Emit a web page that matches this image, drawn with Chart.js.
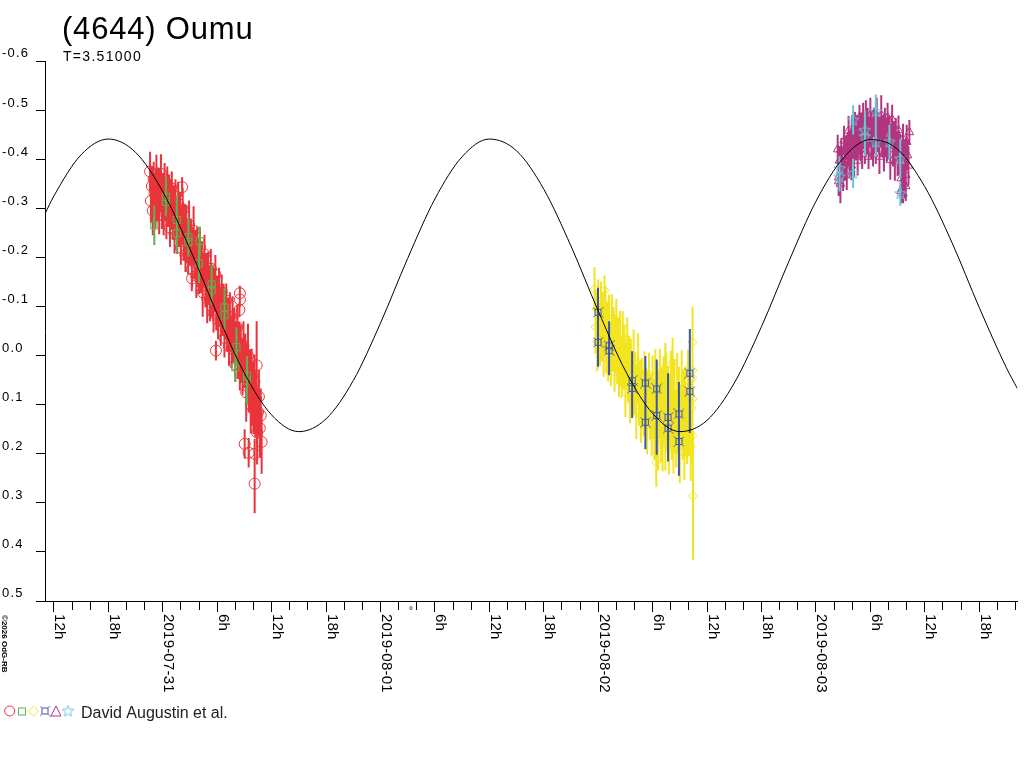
<!DOCTYPE html>
<html>
<head>
<meta charset="utf-8">
<title>(4644) Oumu</title>
<script src="https://cdn.jsdelivr.net/npm/chart.js@4.4.1/dist/chart.umd.min.js"></script>
<style>
    html, body { margin: 0; padding: 0; background: #fff; }
    #wrap { width: 1024px; height: 768px; }
</style>
</head>
<body>
<div id="wrap"><canvas id="lightCurve" width="1024" height="768"></canvas></div>
<script>
/* 데이터 시작 (x = 2019-07-31 00:00 기준 시간, y = 등급) */
/* --------------------------------------------------------------------------------------------------- */
const titleText = '(4644) Oumu';
const subtitleText = 'T=3.51000';
const legendText = 'David Augustin et al.';

// 곡선 (그림에서 3시간 간격으로 읽은 값)
const curveHours = [-13, -12, -9, -6, -3, 0, 3, 6, 9, 12, 15, 18, 21, 24, 27, 30, 33, 36, 39, 42, 45, 48, 51, 54, 57, 60, 63, 66, 69, 72, 75, 78, 81, 84, 87, 90, 93, 94.2];
const curveMag = [-0.288, -0.325, -0.409, -0.441, -0.414, -0.334, -0.217, -0.085, 0.036, 0.121, 0.155, 0.129, 0.051, -0.066, -0.198, -0.319, -0.405, -0.441, -0.417, -0.339, -0.223, -0.091, 0.031, 0.118, 0.155, 0.132, 0.056, -0.059, -0.191, -0.314, -0.402, -0.440, -0.420, -0.344, -0.230, -0.098, 0.025, 0.067];

// [시간, 등급, 오차]
const redObs = [
    [-1.4,-0.375,0.04],[-1.3,-0.315,0.045],[-1.2,-0.345,0.04],[-1.1,-0.295,0.05],[-1.0,-0.36,0.035],
    [-0.9,-0.33,0.04],[-0.8,-0.304,0.045],[-0.7,-0.369,0.04],[-0.6,-0.323,0.05],[-0.5,-0.348,0.035],
    [-0.4,-0.287,0.04],[-0.3,-0.336,0.045],[-0.2,-0.37,0.04],[-0.1,-0.308,0.05],[0.0,-0.337,0.035],
    [0.1,-0.285,0.04],[0.2,-0.347,0.045],[0.3,-0.315,0.04],[0.4,-0.287,0.05],[0.5,-0.35,0.035],
    [0.6,-0.302,0.04],[0.7,-0.324,0.045],[0.8,-0.261,0.04],[0.9,-0.308,0.05],[1.0,-0.34,0.035],
    [1.1,-0.276,0.04],[1.2,-0.302,0.045],[1.3,-0.248,0.04],[1.4,-0.309,0.05],[1.5,-0.275,0.035],
    [1.6,-0.247,0.04],[1.7,-0.309,0.045],[1.8,-0.261,0.04],[1.9,-0.283,0.05],[2.0,-0.22,0.035],
    [2.1,-0.266,0.04],[2.2,-0.297,0.045],[2.3,-0.233,0.04],[2.4,-0.259,0.05],[2.5,-0.205,0.035],
    [2.6,-0.267,0.04],[2.7,-0.233,0.045],[2.8,-0.205,0.04],[2.9,-0.266,0.05],[3.0,-0.218,0.035],
    [3.1,-0.239,0.04],[3.2,-0.176,0.045],[3.3,-0.222,0.04],[3.4,-0.254,0.05],[3.5,-0.19,0.035],
    [3.6,-0.216,0.04],[3.7,-0.162,0.045],[3.8,-0.223,0.04],[3.9,-0.189,0.05],[4.0,-0.16,0.035],
    [4.1,-0.221,0.04],[4.2,-0.172,0.045],[4.3,-0.193,0.04],[4.4,-0.129,0.05],[4.5,-0.175,0.035],
    [4.6,-0.206,0.04],[4.7,-0.143,0.045],[4.8,-0.169,0.04],[4.9,-0.116,0.05],[5.0,-0.177,0.035],
    [5.1,-0.144,0.04],[5.2,-0.115,0.045],[5.3,-0.177,0.04],[5.4,-0.128,0.05],[5.5,-0.15,0.035],
    [5.6,-0.087,0.04],[5.7,-0.133,0.045],[5.8,-0.165,0.04],[5.9,-0.101,0.05],[6.0,-0.128,0.035],
    [6.1,-0.073,0.04],[6.2,-0.134,0.045],[6.3,-0.099,0.04],[6.4,-0.07,0.05],[6.5,-0.13,0.035],
    [6.6,-0.08,0.04],[6.7,-0.101,0.045],[6.8,-0.036,0.04],[6.9,-0.082,0.05],[7.0,-0.112,0.035],
    [7.1,-0.048,0.04],[7.2,-0.073,0.045],[7.3,-0.019,0.04],[7.4,-0.079,0.05],[7.5,-0.045,0.035],
    [7.6,-0.015,0.04],[7.7,-0.076,0.045],[7.8,-0.026,0.04],[7.9,-0.047,0.05],[8.0,0.018,0.035],
    [8.1,-0.027,0.04],[8.2,-0.058,0.045],[8.3,0.007,0.04],[8.4,-0.019,0.05],[8.5,0.036,0.035],
    [8.6,-0.024,0.04],[8.7,0.011,0.045],[8.8,0.04,0.04],[8.9,-0.02,0.05],[9.0,0.03,0.035],
    [9.1,0.01,0.055],[9.2,0.075,0.06],[9.3,0.03,0.055],[9.4,0.0,0.065],[9.5,0.065,0.05],
    [9.6,0.042,0.055],[9.7,0.099,0.06],[9.8,0.041,0.055],[9.9,0.078,0.065],[10.0,0.11,0.05],
    [10.1,0.053,0.055],[10.2,0.106,0.06],[10.3,0.089,0.055],[10.4,0.157,0.065],[10.5,0.115,0.05],
    [10.6,0.084,0.055],[10.7,0.148,0.06],[10.8,0.122,0.055],[10.9,0.176,0.065],
    [2.13,-0.343,0.02],[3.23,-0.157,0.02],[5.86,-0.010,0.02],[8.45,-0.093,0.015],[8.5,-0.114,0.015],
    [8.5,-0.127,0.015],[9.03,0.180,0.03],[9.47,0.198,0.03],[10.13,0.20,0.03],[10.13,0.261,0.06],
    [10.35,0.02,0.09]
];
const greenObs = [
    [-0.93,-0.265,0.04],[0.35,-0.323,0.04],[0.35,-0.313,0.03],[1.55,-0.276,0.05],[1.55,-0.249,0.04],
    [2.83,-0.241,0.04],[2.83,-0.231,0.03],[4.07,-0.233,0.03],[4.0,-0.188,0.04],[5.39,-0.145,0.04],
    [5.39,-0.133,0.03],[6.81,-0.098,0.04],[6.81,-0.082,0.03],[8.12,-0.017,0.04],[8.0,0.024,0.03],
    [9.29,0.051,0.05],[9.29,0.041,0.04]
];
const yellowObs = [
    [47.6,-0.135,0.045],[47.7,-0.058,0.055],[47.8,-0.095,0.04],[47.9,-0.028,0.06],[48.0,-0.105,0.05],
    [48.1,-0.062,0.045],[48.2,-0.034,0.055],[48.3,-0.111,0.04],[48.4,-0.048,0.06],[48.5,-0.08,0.05],
    [48.6,-0.002,0.045],[48.7,-0.059,0.055],[48.8,-0.101,0.04],[48.9,-0.023,0.06],[49.0,-0.06,0.05],
    [49.1,0.008,0.045],[49.2,-0.069,0.055],[49.3,-0.026,0.04],[49.4,0.002,0.06],[49.5,-0.075,0.05],
    [49.6,-0.012,0.045],[49.7,-0.044,0.055],[49.8,0.034,0.04],[49.9,-0.023,0.06],[50.0,-0.065,0.05],
    [50.1,0.013,0.045],[50.2,-0.023,0.055],[50.3,0.045,0.04],[50.4,-0.031,0.06],[50.5,0.013,0.05],
    [50.6,0.041,0.045],[50.7,-0.035,0.055],[50.8,0.028,0.04],[50.9,-0.003,0.06],[51.0,0.075,0.05],
    [51.1,0.019,0.045],[51.2,-0.023,0.055],[51.3,0.056,0.04],[51.4,0.019,0.06],[51.5,0.088,0.05],
    [51.6,0.011,0.045],[51.7,0.055,0.055],[51.8,0.083,0.04],[51.9,0.007,0.06],[52.0,0.07,0.05],
    [52.1,0.038,0.045],[52.2,0.115,0.055],[52.3,0.058,0.04],[52.4,0.015,0.06],[52.5,0.093,0.05],
    [52.6,0.055,0.045],[52.7,0.123,0.055],[52.8,0.045,0.04],[52.9,0.088,0.06],[53.0,0.115,0.05],
    [53.1,0.037,0.045],[53.2,0.098,0.055],[53.3,0.065,0.04],[53.4,0.141,0.06],[53.5,0.083,0.05],
    [53.6,0.039,0.045],[53.7,0.116,0.055],[53.8,0.077,0.04],[53.9,0.144,0.06],[54.0,0.065,0.065],
    [54.1,0.11,0.06],[54.2,0.143,0.07],[54.3,0.042,0.055],[54.4,0.121,0.075],[54.5,0.077,0.065],
    [54.6,0.174,0.06],[54.7,0.1,0.07],[54.8,0.042,0.055],[54.9,0.142,0.075],[55.0,0.09,0.065],
    [55.1,0.176,0.06],[55.2,0.072,0.07],[55.3,0.126,0.055],[55.4,0.159,0.075],[55.5,0.057,0.065],
    [55.6,0.136,0.06],[55.7,0.091,0.07],[55.8,0.188,0.055],[55.9,0.113,0.075],[56.0,0.055,0.065],
    [56.1,0.153,0.06],[56.2,0.101,0.07],[56.3,0.186,0.055],[56.4,0.082,0.075],[56.5,0.135,0.065],
    [56.6,0.168,0.06],[56.7,0.065,0.07],[56.8,0.144,0.055],[56.9,0.098,0.075],[57.0,0.195,0.065],
    [57.1,0.119,0.06],[57.2,0.059,0.07],[57.3,0.157,0.055],[57.4,0.103,0.075],[57.5,0.188,0.065],
    [57.6,0.082,0.06],[57.7,0.135,0.07],[57.8,0.166,0.055],[57.9,0.063,0.075],[58.0,0.14,0.065],
    [58.1,0.092,0.06],[58.2,0.185,0.07],[58.3,0.107,0.055],[58.4,0.045,0.075],
    [48.7,-0.133,0.03],[54.4,0.218,0.05],[55.4,0.024,0.05],[56.2,0.014,0.05],[58.4,-0.027,0.04],
    [58.4,0.088,0.05],[58.4,0.163,0.06],[58.45,0.286,0.13],[58.4,0.03,0.13]
];
const blueObs = [
    [47.98,-0.088,0.05],[47.98,-0.027,0.05],[49.2,-0.020,0.05],[49.2,-0.010,0.05],
    [51.74,0.051,0.06],[51.74,0.067,0.06],[53.2,0.056,0.055],[53.2,0.136,0.055],
    [54.45,0.068,0.06],[54.45,0.122,0.08],[55.7,0.126,0.09],[55.7,0.148,0.06],
    [56.9,0.119,0.065],[56.9,0.175,0.07],[58.1,0.036,0.09],[58.1,0.073,0.085]
];
const magentaObs = [
    [74.4,-0.42,0.03],[74.5,-0.363,0.035],[74.6,-0.397,0.03],[74.7,-0.35,0.04],[74.8,-0.418,0.025],
    [74.9,-0.392,0.03],[75.0,-0.37,0.035],[75.1,-0.438,0.03],[75.2,-0.396,0.04],[75.3,-0.424,0.025],
    [75.4,-0.367,0.03],[75.5,-0.42,0.035],[75.6,-0.458,0.03],[75.7,-0.401,0.04],[75.8,-0.434,0.025],
    [75.9,-0.387,0.03],[76.0,-0.455,0.035],[76.1,-0.427,0.03],[76.2,-0.404,0.04],[76.3,-0.471,0.025],
    [76.4,-0.428,0.03],[76.5,-0.455,0.035],[76.6,-0.397,0.03],[76.7,-0.449,0.04],[76.8,-0.486,0.025],
    [76.9,-0.428,0.03],[77.0,-0.46,0.035],[77.1,-0.41,0.03],[77.2,-0.475,0.04],[77.3,-0.445,0.025],
    [77.4,-0.42,0.03],[77.5,-0.485,0.035],[77.6,-0.44,0.03],[77.7,-0.465,0.04],[77.8,-0.405,0.025],
    [77.9,-0.455,0.03],[78.0,-0.49,0.035],[78.1,-0.43,0.03],[78.2,-0.46,0.04],[78.3,-0.41,0.025],
    [78.4,-0.475,0.03],[78.5,-0.445,0.035],[78.6,-0.42,0.03],[78.7,-0.485,0.04],[78.8,-0.44,0.025],
    [78.9,-0.465,0.03],[79.0,-0.405,0.035],[79.1,-0.455,0.03],[79.2,-0.49,0.04],[79.3,-0.43,0.025],
    [79.4,-0.46,0.03],[79.5,-0.41,0.035],[79.6,-0.475,0.03],[79.7,-0.445,0.04],[79.8,-0.42,0.025],
    [79.9,-0.485,0.03],[80.0,-0.435,0.035],[80.1,-0.459,0.03],[80.2,-0.398,0.04],[80.3,-0.447,0.025],
    [80.4,-0.481,0.03],[80.5,-0.42,0.035],[80.6,-0.448,0.03],[80.7,-0.396,0.04],[80.8,-0.459,0.025],
    [80.9,-0.427,0.03],[81.0,-0.40,0.035],[81.1,-0.459,0.03],[81.2,-0.408,0.04],[81.3,-0.427,0.025],
    [81.4,-0.361,0.03],[81.5,-0.405,0.035],[81.6,-0.442,0.03],[81.7,-0.384,0.04],[81.8,-0.416,0.025],
    [81.9,-0.368,0.03],[82.0,-0.435,0.035],[82.1,-0.408,0.03],[82.2,-0.387,0.04],[82.3,-0.455,0.025],
    [74.5,-0.355,0.03],[81.4,-0.335,0.025],[81.5,-0.34,0.03],[81.6,-0.33,0.02],[81.7,-0.35,0.03],
    [81.9,-0.345,0.03]
];
const cyanObs = [
    [74.6,-0.381,0.025],[74.6,-0.364,0.03],[76.1,-0.371,0.03],[76.1,-0.480,0.03],
    [77.4,-0.459,0.04],[77.4,-0.446,0.04],[78.6,-0.497,0.035],[78.6,-0.435,0.03],
    [80.1,-0.435,0.035],[81.3,-0.401,0.04],[81.3,-0.330,0.025]
];

// 축 눈금
const xMajorHours = [-12, -6, 0, 6, 12, 18, 24, 30, 36, 42, 48, 54, 60, 66, 72, 78, 84, 90];
const xMajorLabels = ['12h', '18h', '2019-07-31', '6h', '12h', '18h', '2019-08-01', '6h', '12h', '18h', '2019-08-02', '6h', '12h', '18h', '2019-08-03', '6h', '12h', '18h'];
const yTickValues = [-0.6, -0.5, -0.4, -0.3, -0.2, -0.1, 0.0, 0.1, 0.2, 0.3, 0.4, 0.5];
const yTickLabels = ['-0.6', '-0.5', '-0.4', '-0.3', '-0.2', '-0.1', '0.0', '0.1', '0.2', '0.3', '0.4', '0.5'];
/* --------------------------------------------------------------------------------------------------- */

const RED = '#e8343a';
const GREEN = '#5cb450';
const YELLOW = '#f2e41e';
const BLUE = '#3a55b0';
const MAGENTA = '#b2357f';
const CYAN = '#66c8d8';

Chart.defaults.font.family = '"Liberation Sans", Arial, sans-serif';

// 파란 기호, 별 기호 (pointStyle 이미지)
function makeBlueMark() {
    const c = document.createElement('canvas');
    c.width = 11; c.height = 11;
    const g = c.getContext('2d');
    g.strokeStyle = BLUE; g.lineWidth = 1;
    g.strokeRect(2.5, 2.5, 6, 6);
    g.beginPath();
    g.moveTo(0.5, 0.5); g.lineTo(2.5, 2.5);
    g.moveTo(10.5, 0.5); g.lineTo(8.5, 2.5);
    g.moveTo(0.5, 10.5); g.lineTo(2.5, 8.5);
    g.moveTo(10.5, 10.5); g.lineTo(8.5, 8.5);
    g.stroke();
    return c;
}
function makeStarMark() {
    const c = document.createElement('canvas');
    c.width = 13; c.height = 13;
    const g = c.getContext('2d');
    g.strokeStyle = CYAN; g.lineWidth = 1;
    g.beginPath();
    for (let i = 0; i < 10; i++) {
        const r = i % 2 === 0 ? 6 : 2.6;
        const a = -Math.PI / 2 + i * Math.PI / 5;
        const px = 6.5 + r * Math.cos(a), py = 6.8 + r * Math.sin(a);
        if (i === 0) g.moveTo(px, py); else g.lineTo(px, py);
    }
    g.closePath();
    g.stroke();
    return c;
}
const blueMark = makeBlueMark();
const starMark = makeStarMark();

// 오차 막대: 선 데이터셋 (null 로 끊음)
function errLine(obs, color, width, order) {
    const pts = [];
    obs.forEach(o => {
        pts.push({ x: o[0], y: o[1] - o[2] });
        pts.push({ x: o[0], y: o[1] + o[2] });
        pts.push({ x: o[0], y: null });
    });
    return { type: 'line', data: pts, borderColor: color, borderWidth: width, pointRadius: 0, spanGaps: false, tension: 0, fill: false, order: order };
}
function marks(obs, color, style, radius, order) {
    return {
        type: 'scatter',
        data: obs.map(o => ({ x: o[0], y: o[1] })),
        pointStyle: style, pointRadius: radius,
        borderColor: color, backgroundColor: 'rgba(0,0,0,0)', borderWidth: 1,
        order: order
    };
}

// 제목, 세로 날짜 라벨, 범례
const decorPlugin = {
    id: 'decor',
    beforeDraw(chart) {
        chart.ctx.letterSpacing = '1.2px'; // y축 라벨 간격
    },
    afterDraw(chart) {
        const ctx = chart.ctx;
        const xs = chart.scales.x;
        ctx.save();
        ctx.fillStyle = '#000';
        ctx.textAlign = 'left';
        ctx.textBaseline = 'alphabetic';

        ctx.letterSpacing = '0.8px';
        ctx.font = '31px "Liberation Sans"';
        ctx.fillText(titleText, 62, 39);
        ctx.letterSpacing = '1.3px';
        ctx.font = '14px "Liberation Sans"';
        ctx.fillText(subtitleText, 63, 61);

        ctx.letterSpacing = '0.2px';
        ctx.font = '15px "Liberation Sans"';
        xMajorHours.forEach((h, i) => {
            const px = xs.getPixelForValue(h);
            ctx.save();
            ctx.translate(px + 1.5, xs.top + 13);
            ctx.rotate(Math.PI / 2);
            ctx.fillText(xMajorLabels[i], 0, 0);
            ctx.restore();
        });

        ctx.letterSpacing = '0px';
        ctx.font = 'bold 8px "Liberation Sans"';
        ctx.save();
        ctx.translate(1.5, 615);
        ctx.rotate(Math.PI / 2);
        ctx.fillText('\u00a92026 OdG-RB', 0, 0);
        ctx.restore();

        ctx.font = '10px "Liberation Sans"';
        ctx.fillText('\u00b0', 409, 614);

        // 범례 기호
        ctx.lineWidth = 1;
        ctx.strokeStyle = RED;
        ctx.beginPath(); ctx.arc(9.7, 711, 5, 0, Math.PI * 2); ctx.stroke();
        ctx.strokeStyle = GREEN;
        ctx.strokeRect(18.5, 708, 7, 7);
        ctx.strokeStyle = YELLOW;
        ctx.beginPath(); ctx.moveTo(28.5, 711); ctx.lineTo(33.5, 706); ctx.lineTo(38.5, 711); ctx.lineTo(33.5, 716); ctx.closePath(); ctx.stroke();
        ctx.drawImage(blueMark, 39.5, 705.5);
        ctx.strokeStyle = MAGENTA;
        ctx.beginPath(); ctx.moveTo(56, 706); ctx.lineTo(61, 716); ctx.lineTo(51, 716); ctx.closePath(); ctx.stroke();
        ctx.drawImage(starMark, 61.5, 704.5);

        ctx.font = '16px "Liberation Sans"';
        ctx.fillStyle = '#222';
        ctx.fillText(legendText, 81, 718);
        ctx.restore();
        ctx.letterSpacing = '0px';
    }
};

const minorHours = [];
for (let h = -12; h <= 94; h += 2) minorHours.push(h);

new Chart(document.getElementById('lightCurve').getContext('2d'), {
    type: 'scatter',
    data: {
        datasets: [
            { type: 'line', data: curveHours.map((h, i) => ({ x: h, y: curveMag[i] })), borderColor: '#000', borderWidth: 1, pointRadius: 0, cubicInterpolationMode: 'monotone', fill: false, order: 0 },
            errLine(blueObs, BLUE, 2, 2), marks(blueObs, BLUE, blueMark, 5, 1),
            errLine(cyanObs, CYAN, 2, 2), marks(cyanObs, CYAN, starMark, 5, 1),
            errLine(greenObs, GREEN, 2, 2), marks(greenObs, GREEN, 'rect', 5, 1),
            errLine(redObs, RED, 2, 4), marks(redObs, RED, 'circle', 5.5, 3),
            errLine(yellowObs, YELLOW, 2, 4), marks(yellowObs, YELLOW, 'rectRot', 4.5, 3),
            errLine(magentaObs, MAGENTA, 2, 4), marks(magentaObs, MAGENTA, 'triangle', 5, 3)
        ]
    },
    options: {
        responsive: false,
        animation: false,
        events: [],
        layout: { padding: { left: 2, top: 61, right: 0, bottom: 0 } },
        plugins: {
            legend: { display: false },
            tooltip: { enabled: false }
        },
        scales: {
            x: {
                type: 'linear',
                min: -12.98,
                max: 94.22,
                offset: false,
                afterBuildTicks: s => { s.ticks = minorHours.map(v => ({ value: v })); },
                afterFit: s => { s.height = 167; },
                ticks: { display: false, autoSkip: false },
                grid: {
                    drawOnChartArea: false,
                    tickLength: 11,
                    tickColor: '#000',
                    tickWidth: 1,
                    tickBorderDash: c => (c.tick && xMajorHours.indexOf(c.tick.value) >= 0) ? [] : [8, 30]
                },
                border: { display: true, color: '#000', width: 1 }
            },
            y: {
                type: 'linear',
                reverse: true,
                min: -0.6,
                max: 0.5,
                afterBuildTicks: s => { s.ticks = yTickValues.map(v => ({ value: v })); },
                afterFit: s => { s.width = 43; },
                ticks: {
                    autoSkip: false,
                    crossAlign: 'far',
                    padding: 0,
                    color: '#000',
                    font: { size: 13, lineHeight: 1.1 },
                    callback: (v, i) => [yTickLabels[i], '']
                },
                grid: { drawOnChartArea: false, tickLength: 9, tickColor: '#000' },
                border: { display: true, color: '#000', width: 1 }
            }
        }
    },
    plugins: [decorPlugin]
});
</script>
</body>
</html>
